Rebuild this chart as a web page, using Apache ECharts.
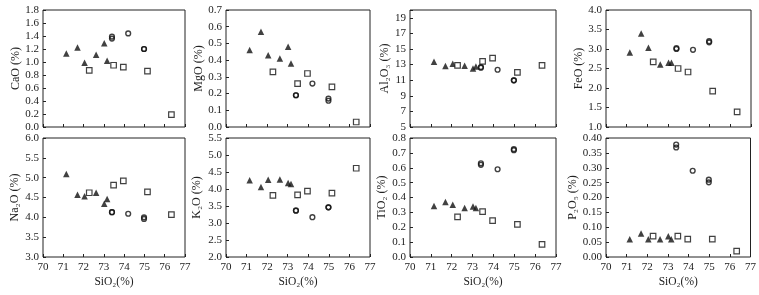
<!DOCTYPE html>
<html><head><meta charset="utf-8">
<script src="https://cdn.jsdelivr.net/npm/echarts@6/dist/echarts.min.js"></script>
<style>html,body{margin:0;padding:0;background:#fff}#c{width:759px;height:295px}</style>
</head><body><div id="c"></div>
<script>
// SiO2 values of the three sample groups
const sio2Tri = [71.15, 71.7, 72.05, 72.62, 73.02, 73.16];
const sio2Sq  = [72.28, 73.48, 73.96, 75.15, 76.33];
const sio2Cir = [73.4, 73.4, 74.2, 74.98, 74.98];

const caoTri = [1.13, 1.225, 0.99, 1.11, 1.29, 1.02];
const caoSq  = [0.87, 0.95, 0.92, 0.86, 0.19];
const caoCir = [1.36, 1.39, 1.44, 1.20, 1.20];

const mgoTri = [0.46, 0.57, 0.43, 0.41, 0.48, 0.38];
const mgoSq  = [0.33, 0.26, 0.32, 0.24, 0.03];
const mgoCir = [0.19, 0.19, 0.26, 0.17, 0.157];

const al2o3Tri = [13.37, 12.81, 13.11, 12.86, 12.5, 12.77];
const al2o3Sq  = [12.9, 13.41, 13.84, 12.0, 12.9];
const al2o3Cir = [12.6, 12.68, 12.34, 10.98, 10.98];

const feoTri = [2.91, 3.4, 3.03, 2.6, 2.65, 2.65];
const feoSq  = [2.67, 2.5, 2.41, 1.92, 1.39];
const feoCir = [3.0, 3.02, 2.98, 3.2, 3.17];

const na2oTri = [5.09, 4.57, 4.53, 4.62, 4.34, 4.46];
const na2oSq  = [4.62, 4.81, 4.92, 4.64, 4.07];
const na2oCir = [4.13, 4.13, 4.09, 4.0, 3.96];

const k2oTri = [4.26, 4.06, 4.27, 4.28, 4.18, 4.15];
const k2oSq  = [3.81, 3.83, 3.94, 3.88, 4.61];
const k2oCir = [3.36, 3.37, 3.17, 3.46, 3.46];

const tio2Tri = [0.343, 0.37, 0.352, 0.33, 0.34, 0.33];
const tio2Sq  = [0.27, 0.305, 0.245, 0.22, 0.085];
const tio2Cir = [0.63, 0.62, 0.59, 0.725, 0.718];

const p2o5Tri = [0.06, 0.079, 0.06, 0.06, 0.07, 0.06];
const p2o5Sq  = [0.07, 0.07, 0.06, 0.06, 0.02];
const p2o5Cir = [0.378, 0.368, 0.29, 0.26, 0.251];

// axis ranges / tick settings
const xMin = 70, xMax = 77, xStep = 1;
const panelNames = ['CaO (%)', 'MgO (%)', 'Al\u2082O\u2083 (%)', 'FeO (%)',
                    'Na\u2082O (%)', 'K\u2082O (%)', 'TiO\u2082 (%)', 'P\u2082O\u2085 (%)'];
const yMins  = [0, 0, 5, 1, 3, 2, 0, 0];
const yMaxs  = [1.8, 0.7, 20, 4, 6, 5.5, 0.8, 0.4];
const ySteps = [0.2, 0.1, 2, 0.5, 0.5, 0.5, 0.1, 0.05];
const yDecs  = [1, 1, 0, 1, 1, 1, 1, 2];
const xName = 'SiO\u2082(%)';

const panels = [
  [caoTri, caoSq, caoCir], [mgoTri, mgoSq, mgoCir], [al2o3Tri, al2o3Sq, al2o3Cir], [feoTri, feoSq, feoCir],
  [na2oTri, na2oSq, na2oCir], [k2oTri, k2oSq, k2oCir], [tio2Tri, tio2Sq, tio2Cir], [p2o5Tri, p2o5Sq, p2o5Cir]
];

// layout
const colL = [43, 226, 410, 606];
const colW = [142, 144, 146, 145];
const rowT = [10, 138];
const rowH = [117, 119];
const nameGaps = [21, 19, 18, 18, 22, 23, 22, 24];

const FONT = '"Liberation Serif", "DejaVu Serif", serif';
const TXT = '#222';

const grids = [], xAxes = [], yAxes = [], series = [];
const zip = (xs, ys) => xs.map((x, i) => [x, ys[i]]);

for (let p = 0; p < 8; p++) {
  const r = Math.floor(p / 4), c = p % 4;
  grids.push({left: colL[c], top: rowT[r], width: colW[c], height: rowH[r],
    show: true, borderColor: '#222', borderWidth: 1, backgroundColor: 'transparent'});
  xAxes.push({type: 'value', gridIndex: p, min: xMin, max: xMax, interval: xStep,
    axisLine: {show: false}, splitLine: {show: false},
    axisTick: {show: true, inside: true, length: 3, lineStyle: {color: '#222'}},
    axisLabel: {show: r === 1, fontFamily: FONT, fontSize: 11, color: TXT, margin: 5},
    name: r === 1 ? xName : '', nameLocation: 'middle', nameGap: 19,
    nameTextStyle: {fontFamily: FONT, fontSize: 11.5, color: TXT}});
  const dec = yDecs[p];
  yAxes.push({type: 'value', gridIndex: p, min: yMins[p], max: yMaxs[p], interval: ySteps[p],
    axisLine: {show: false}, splitLine: {show: false},
    axisTick: {show: true, inside: true, length: 3, lineStyle: {color: '#222'}},
    axisLabel: {fontFamily: FONT, fontSize: 11, color: TXT, margin: 4,
      formatter: v => (p === 2 && v === 20) ? '' : v.toFixed(dec)},
    name: panelNames[p], nameLocation: 'middle', nameGap: nameGaps[p], nameRotate: 90,
    nameTextStyle: {fontFamily: FONT, fontSize: 12, color: TXT}});
  const [tri, sq, cir] = panels[p];
  series.push({type: 'scatter', xAxisIndex: p, yAxisIndex: p, data: zip(sio2Tri, tri),
    symbol: 'triangle', symbolSize: 6.5, itemStyle: {color: '#111'}, z: 3});
  series.push({type: 'scatter', xAxisIndex: p, yAxisIndex: p, data: zip(sio2Sq, sq),
    symbol: 'rect', symbolSize: 5.5, itemStyle: {color: '#fff', borderColor: '#111', borderWidth: 1.2}, z: 3});
  series.push({type: 'scatter', xAxisIndex: p, yAxisIndex: p, data: zip(sio2Cir, cir),
    symbol: 'circle', symbolSize: 4.8, itemStyle: {color: 'rgba(255,255,255,0)', borderColor: '#111', borderWidth: 1.4}, z: 3});
}

const chart = echarts.init(document.getElementById('c'), null, {renderer: 'canvas'});
chart.setOption({animation: false, backgroundColor: '#fff', grid: grids, xAxis: xAxes, yAxis: yAxes, series: series});
</script></body></html>
